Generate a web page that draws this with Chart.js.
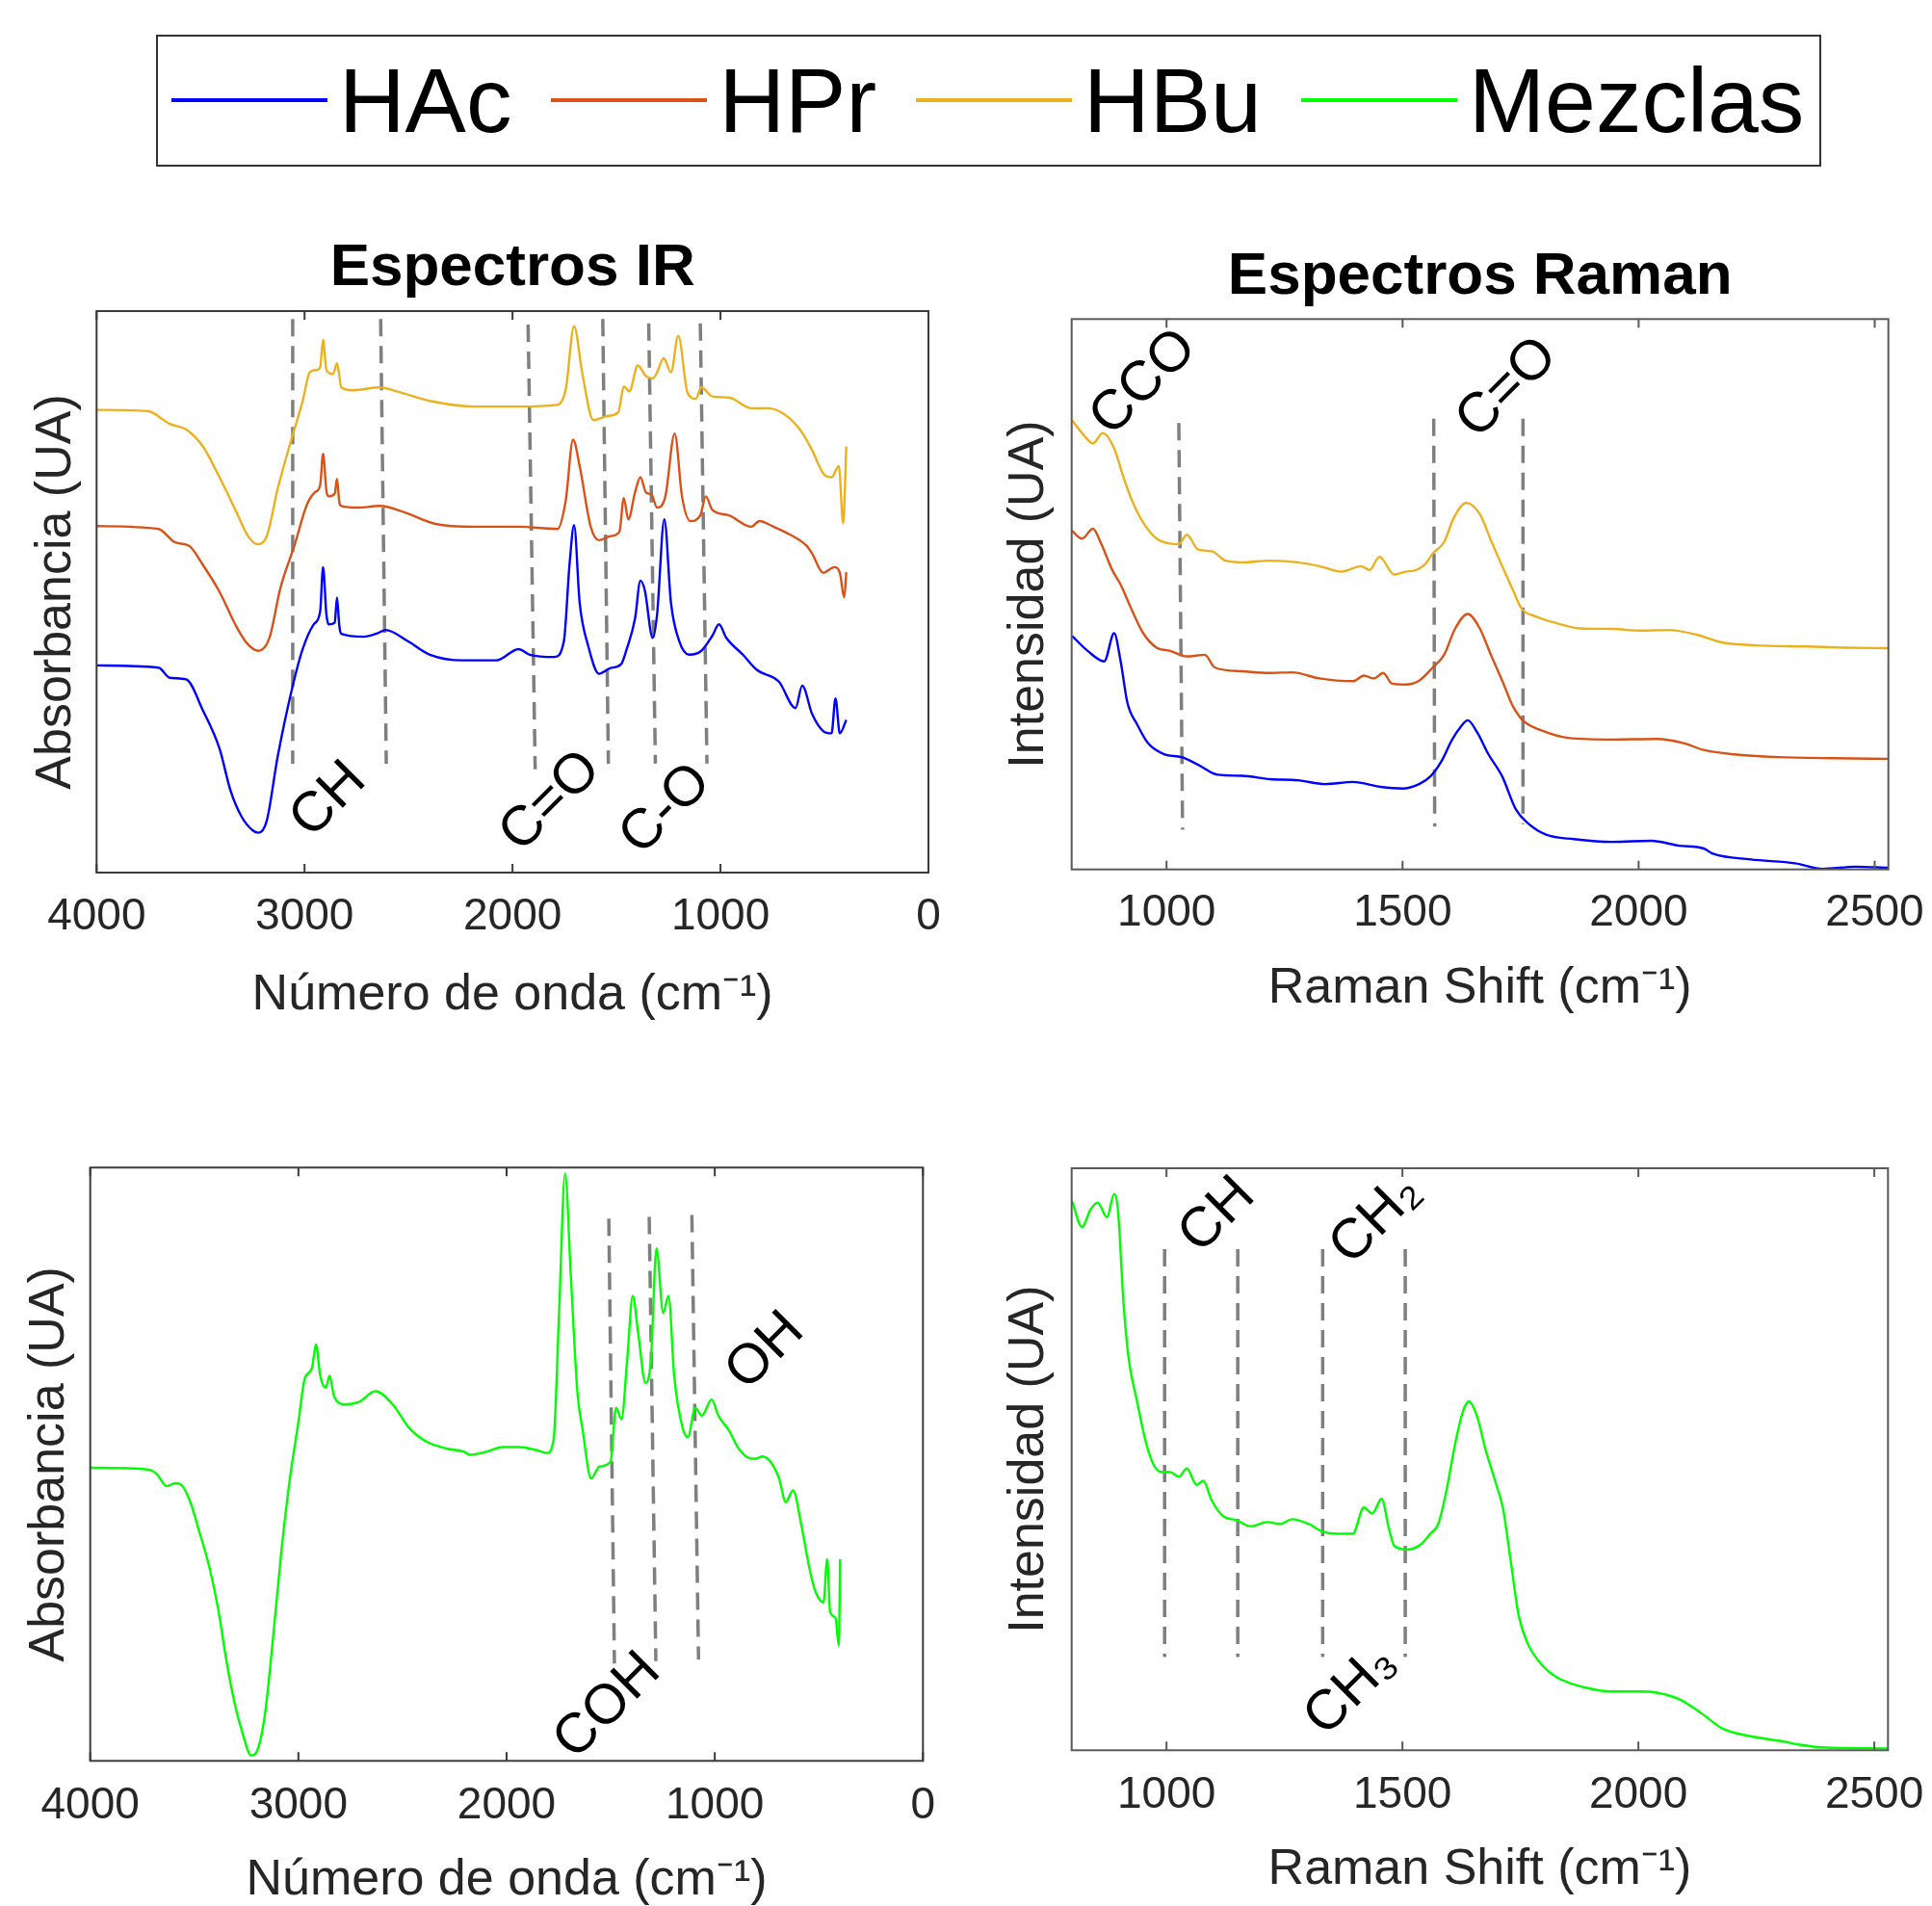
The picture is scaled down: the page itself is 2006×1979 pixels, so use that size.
<!DOCTYPE html>
<html lang="es">
<head>
<meta charset="utf-8">
<title>Espectros IR y Raman</title>
<script src="https://cdn.jsdelivr.net/npm/chart.js@4.4.1/dist/chart.umd.min.js"></script>
<style>
  html, body { margin: 0; padding: 0; background: #fff; }
  body { width: 2006px; height: 1979px; position: relative; overflow: hidden; font-family: "Liberation Sans", Arial, sans-serif; }
  canvas { position: absolute; }
  #legend { position: absolute; left: 162px; top: 36px; width: 1729px; height: 137px; box-sizing: border-box; border: 2px solid #333; background: #fff; }
  #legend .row { position: absolute; left: 14px; top: 19px; height: 94px; display: flex; align-items: center; }
  #legend .item { display: flex; align-items: center; margin-right: 41px; }
  #legend .swatch { width: 162px; height: 4px; margin-right: 12px; }
  #legend .txt { font-size: 95px; line-height: 94px; color: #000; }
</style>
</head>
<body>
<div id="legend"><div class="row" id="legendRow"></div></div>
<canvas id="irChart" width="1000" height="880" style="left:0;top:200px"></canvas>
<canvas id="ramanChart" width="1006" height="880" style="left:1000px;top:200px"></canvas>
<canvas id="irMixChart" width="1000" height="879" style="left:0;top:1100px"></canvas>
<canvas id="ramanMixChart" width="1006" height="879" style="left:1000px;top:1100px"></canvas>
<script>
// series (legend)
const seriesNames = ['HAc', 'HPr', 'HBu', 'Mezclas'];
const seriesColors = ['#0000ff', '#d95319', '#edb120', '#00ff00'];

// ticks
const irTicks = [4000, 3000, 2000, 1000, 0];
const ramanTicks = [1000, 1500, 2000, 2500];

// IR spectra: [numero de onda, absorbancia (% de la altura del eje)]
const irHAc = [
  [4000, 36.9], [3702, 36.5], [3648, 34.7], [3569, 34.4], [3489, 28.9], [3409, 22.1], [3356, 14.6],
  [3302, 9.9], [3249, 7.5], [3222, 7.1], [3182, 9.2], [3129, 20.7], [3063, 32.3], [3009, 39.8],
  [2956, 44.2], [2925, 46.5], [2911, 54.4], [2895, 46], [2884, 44.2], [2855, 44.5], [2844, 49.0],
  [2833, 44], [2823, 42.5], [2716, 42.0], [2650, 42.6], [2610, 43.2], [2503, 41.2], [2397, 38.8],
  [2237, 37.8], [2077, 37.8], [1971, 39.8], [1917, 38.8], [1798, 38.4], [1753, 41.2], [1726, 54.8],
  [1704, 61.9], [1677, 48.0], [1637, 40.5], [1584, 35.4], [1531, 36.4], [1478, 37.1], [1451, 39.8],
  [1411, 45.2], [1385, 52.0], [1364, 50.3], [1326, 41.8], [1305, 45.9], [1270, 62.9], [1238, 48.0],
  [1198, 41.2], [1150, 38.8], [1092, 39.5], [1039, 42.2], [1007, 44.2], [972, 41.8], [892, 38.8],
  [825, 36.1], [719, 34.0], [639, 29.3], [607, 33.3], [559, 28.2], [506, 25.2], [466, 24.8],
  [447, 31.0], [426, 24.8], [395, 27.2]
];
const irHPr = [
  [4000, 61.7], [3702, 61.2], [3622, 58.8], [3555, 58.2], [3489, 54.8], [3409, 50.0], [3329, 43.9],
  [3276, 40.8], [3222, 39.5], [3169, 41.8], [3116, 50.7], [3049, 58.2], [2988, 65.6], [2951, 67.7],
  [2925, 69], [2911, 74.6], [2895, 68], [2884, 67.0], [2855, 67.5], [2844, 70.1], [2833, 66],
  [2823, 65.3], [2743, 65.0], [2637, 65.3], [2530, 64.3], [2370, 62.1], [2184, 61.6], [1971, 61.6],
  [1784, 61.2], [1744, 66.3], [1709, 77.1], [1677, 72.4], [1624, 61.6], [1584, 59.2], [1531, 59.9],
  [1486, 60.7], [1465, 66.7], [1443, 62.9], [1411, 67.7], [1385, 70.4], [1358, 67.7], [1331, 67.3],
  [1305, 65.0], [1265, 67.0], [1220, 78.2], [1185, 67.0], [1145, 62.6], [1097, 63.6], [1071, 67.0],
  [1039, 64.6], [959, 63.6], [852, 61.6], [812, 62.6], [745, 61.6], [666, 60.2], [586, 58.2],
  [559, 56.8], [506, 53.4], [452, 54.4], [426, 53.4], [405, 49.0], [395, 53.5]
];
const irHBu = [
  [4000, 82.4], [3755, 82.2], [3648, 79.9], [3569, 78.9], [3489, 75.9], [3409, 70.4], [3329, 64.3],
  [3276, 60.2], [3228, 58.5], [3182, 59.9], [3129, 68.4], [3063, 77.2], [3009, 84.0], [2975, 89.1],
  [2943, 89.5], [2925, 90], [2911, 94.9], [2895, 89.5], [2863, 88.8], [2844, 90.7], [2823, 86.4],
  [2770, 85.9], [2637, 86.4], [2556, 85.7], [2397, 84.0], [2184, 83.0], [1971, 83.0], [1784, 83.3],
  [1744, 86.1], [1704, 97.3], [1664, 88.8], [1611, 80.6], [1545, 81.3], [1491, 82.0], [1465, 86.6],
  [1438, 85.7], [1398, 90.3], [1358, 88.4], [1326, 88.0], [1305, 89.1], [1273, 91.6], [1238, 89.1],
  [1203, 95.6], [1158, 85.4], [1118, 84.4], [1092, 86.4], [1039, 84.8], [959, 84.6], [852, 82.7],
  [772, 82.7], [692, 81.6], [612, 78.6], [559, 75.2], [506, 71.1], [466, 70.4], [431, 72.4],
  [410, 62.2], [395, 75.9]
];

// Raman spectra: [raman shift, intensidad (% de la altura del eje)]
const ramanHAc = [
  [800, 42.4], [833, 39.7], [868, 37.8], [889, 42.9], [903, 37.7], [917, 30.3], [938, 26.3],
  [961, 22.9], [996, 20.9], [1032, 20.4], [1067, 19.0], [1108, 17.2], [1160, 17.0], [1219, 16.4],
  [1278, 16.2], [1336, 15.5], [1395, 15.9], [1453, 15.0], [1500, 14.7], [1535, 15.5], [1559, 16.9],
  [1582, 19.6], [1605, 23.6], [1623, 25.9], [1638, 27.1], [1658, 24.9], [1682, 20.9], [1711, 16.9],
  [1740, 10.9], [1764, 8.5], [1804, 6.3], [1863, 5.5], [1945, 5.0], [2027, 5.2], [2086, 4.3],
  [2138, 3.8], [2156, 2.9], [2238, 1.8], [2332, 1.1], [2390, 0.1], [2460, 0.5], [2528, 0.3]
];
const ramanHPr = [
  [800, 61.5], [821, 60.1], [844, 61.9], [862, 59.1], [885, 54.4], [903, 51.7], [920, 48.4],
  [950, 43.0], [979, 40.3], [1008, 39.7], [1043, 38.7], [1081, 39.0], [1102, 36.7], [1160, 36.0],
  [1219, 35.7], [1266, 35.8], [1324, 34.7], [1395, 34.2], [1418, 35.2], [1439, 34.7], [1459, 35.7],
  [1477, 33.8], [1506, 33.6], [1535, 34.3], [1564, 36.7], [1588, 39.0], [1611, 43.7], [1638, 46.4],
  [1664, 43.7], [1687, 39.0], [1711, 34.3], [1734, 29.6], [1757, 26.9], [1793, 25.3], [1851, 23.9],
  [1945, 23.6], [2039, 23.7], [2097, 22.9], [2138, 21.7], [2202, 20.9], [2296, 20.4], [2413, 20.2],
  [2528, 20.1]
];
const ramanHBu = [
  [800, 81.6], [821, 79.3], [844, 77.4], [865, 79.3], [889, 76.5], [909, 71.2], [926, 67.2],
  [950, 63.1], [979, 60.1], [1008, 59.2], [1026, 59.1], [1043, 60.8], [1067, 58.1], [1096, 57.8],
  [1125, 56.1], [1160, 55.8], [1219, 56.1], [1278, 55.8], [1324, 55.1], [1371, 54.1], [1412, 55.1],
  [1430, 54.4], [1451, 56.8], [1482, 53.6], [1506, 54.1], [1529, 54.4], [1547, 55.4], [1564, 57.4],
  [1588, 59.5], [1608, 63.8], [1635, 66.6], [1664, 64.5], [1687, 59.8], [1711, 55.1], [1734, 50.7],
  [1752, 47.4], [1781, 46.0], [1828, 44.7], [1875, 43.8], [1945, 43.7], [2004, 43.4], [2062, 43.5],
  [2121, 42.7], [2179, 41.2], [2249, 40.7], [2355, 40.5], [2437, 40.3], [2528, 40.2]
];

// Mezclas
const irMix = [
  [4000, 49.4], [3718, 49.1], [3679, 48.3], [3633, 46.3], [3591, 46.8], [3559, 46.4], [3519, 43.6],
  [3479, 39.0], [3426, 32.4], [3386, 25.7], [3347, 17.1], [3307, 9.8], [3267, 4.5], [3227, 0.9],
  [3201, 1.5], [3161, 7.8], [3121, 21.1], [3081, 35.7], [3041, 47.6], [3001, 56.9], [2969, 64.5],
  [2935, 66.2], [2916, 70.2], [2895, 64.9], [2869, 62.9], [2850, 64.9], [2829, 61.5], [2776, 60.1],
  [2709, 60.5], [2630, 62.3], [2550, 60.2], [2470, 56.2], [2390, 53.9], [2284, 52.6], [2204, 52.1],
  [2178, 51.6], [2098, 52.1], [2019, 52.9], [1939, 52.9], [1859, 52.4], [1806, 51.9], [1774, 54.2],
  [1748, 75.5], [1719, 99.0], [1692, 82.1], [1660, 62.2], [1634, 55.6], [1594, 47.6], [1554, 49.6],
  [1501, 50.4], [1474, 59.5], [1448, 57.6], [1421, 67.5], [1394, 78.4], [1368, 72.1], [1333, 63.7],
  [1307, 67.5], [1280, 86.4], [1248, 75.5], [1222, 78.4], [1195, 64.9], [1155, 56.2], [1129, 54.6],
  [1094, 59.5], [1062, 58.2], [1015, 60.9], [983, 58.2], [930, 55.6], [890, 52.9], [850, 51.3],
  [810, 50.9], [770, 51.3], [730, 50.3], [691, 47.6], [659, 43.6], [624, 45.6], [584, 39.7],
  [545, 32.4], [518, 28.7], [478, 26.7], [460, 34.0], [446, 25.1], [420, 24.1], [404, 19.4], [398, 34.0]
];
const ramanMix = [
  [800, 94.3], [821, 89.9], [839, 92.9], [854, 94.1], [874, 91.6], [889, 95.6], [897, 92.9],
  [909, 76.7], [920, 67.2], [938, 59.8], [956, 53.0], [973, 49.0], [991, 47.8], [1008, 47.8],
  [1026, 47.0], [1043, 48.4], [1064, 45.6], [1078, 46.3], [1096, 42.9], [1119, 40.3], [1149, 39.5],
  [1178, 38.5], [1213, 39.2], [1242, 38.9], [1266, 39.7], [1301, 38.9], [1330, 37.6], [1360, 37.2],
  [1395, 37.2], [1418, 41.7], [1436, 40.7], [1456, 43.2], [1471, 38.2], [1483, 35.1], [1512, 34.5],
  [1541, 35.5], [1559, 37.2], [1576, 38.9], [1594, 44.9], [1611, 52.4], [1629, 58.4], [1641, 59.9],
  [1658, 57.4], [1676, 51.7], [1699, 45.6], [1713, 41.6], [1729, 32.8], [1746, 23.3], [1764, 18.6],
  [1793, 14.9], [1828, 12.5], [1886, 10.8], [1945, 10.1], [2004, 10.1], [2039, 9.9], [2086, 8.8],
  [2133, 6.4], [2179, 3.7], [2238, 2.4], [2308, 1.5], [2338, 1.0], [2390, 0.5], [2528, 0.3]
];

// lineas guia discontinuas [x1, y1, x2, y2] y etiquetas de banda [texto, x, y]
const irGuides = [
  [3057, 98.6, 3057, 19.4], [2634, 98.6, 2607, 19.4], [1925, 97.6, 1891, 18.4],
  [1566, 98.6, 1539, 19.4], [1345, 97.8, 1313, 19.4], [1097, 97.8, 1065, 19.4]
];
const irBands = [['CH', 2884, 12.9], ['C=O', 1816, 12.6], ['C-O', 1262, 11.2]];
const ramanGuides = [[1026, 81.1, 1034, 7.2], [1566, 81.9, 1568, 7.8], [1755, 81.9, 1755, 8.2]];
const ramanBands = [['CCO', 952, 88.4], ['C=O', 1722, 87.4]];
const irMixGuides = [[1509, 91.4, 1482, 16.4], [1315, 91.7, 1283, 16.8], [1110, 92.0, 1078, 17.1]];
const irMixBands = [['COH', 1514, 9.2], ['OH', 757, 69.0]];
const ramanMixGuides = [[996, 86.1, 996, 16.0], [1151, 86.1, 1151, 16.0], [1331, 86.1, 1331, 16.0], [1506, 86.1, 1506, 16.0]];
const ramanMixBands = [['CH', 1108, 91.9], ['CH\u2082', 1444, 91.2], ['CH\u2083', 1391, 10.3]];

const FONT = '"Liberation Sans", Arial, sans-serif';
const AXIS_TXT = '#262626';

// leyenda comun
const legendRow = document.getElementById('legendRow');
seriesNames.forEach((name, i) => {
  const item = document.createElement('div');
  item.className = 'item';
  item.innerHTML = '<div class="swatch" style="background:' + seriesColors[i] + '"></div><span class="txt">' + name + '</span>';
  legendRow.appendChild(item);
});

// marco tipo MATLAB con marcas hacia dentro
const framePlugin = {
  id: 'frame',
  afterDatasetsDraw(chart, args, opts) {
    const { ctx, chartArea: a, scales: { x } } = chart;
    ctx.save();
    ctx.strokeStyle = opts.color || '#404040';
    ctx.lineWidth = 2;
    ctx.strokeRect(a.left, a.top, a.right - a.left, a.bottom - a.top);
    ctx.beginPath();
    x.ticks.forEach(t => {
      const px = x.getPixelForValue(t.value);
      ctx.moveTo(px, a.bottom); ctx.lineTo(px, a.bottom - 9);
      ctx.moveTo(px, a.top); ctx.lineTo(px, a.top + 9);
    });
    ctx.stroke();
    ctx.restore();
  }
};

// etiquetas de bandas giradas 45 grados
const bandPlugin = {
  id: 'bands',
  afterDatasetsDraw(chart, args, opts) {
    const { ctx, scales: { x, y } } = chart;
    ctx.save();
    ctx.font = '58px ' + FONT;
    ctx.fillStyle = '#000';
    ctx.textAlign = 'center';
    ctx.textBaseline = 'middle';
    (opts.items || []).forEach(([text, xv, yv]) => {
      ctx.save();
      ctx.translate(x.getPixelForValue(xv), y.getPixelForValue(yv));
      ctx.rotate(-Math.PI / 4);
      ctx.fillText(text, 0, 0);
      ctx.restore();
    });
    ctx.restore();
  }
};

function toPoints(arr) {
  return arr.map(([x, y]) => ({ x, y }));
}

function seriesDataset(idx, pts) {
  return {
    label: seriesNames[idx],
    data: toPoints(pts),
    borderColor: seriesColors[idx],
    borderWidth: 2.4,
    pointRadius: 0,
    cubicInterpolationMode: 'monotone',
    fill: false
  };
}

function guideDatasets(guides) {
  return guides.map(([x1, y1, x2, y2]) => ({
    label: 'guia',
    data: [{ x: x1, y: y1 }, { x: x2, y: y2 }],
    borderColor: '#7f7f7f',
    borderWidth: 3.5,
    borderDash: [18, 10],
    pointRadius: 0,
    fill: false
  }));
}

// cfg: geometria del area del grafico dentro de su canvas
function makeSpectrum(id, cfg) {
  const ctx = document.getElementById(id).getContext('2d');
  return new Chart(ctx, {
    type: 'line',
    data: { datasets: cfg.datasets },
    plugins: [framePlugin, bandPlugin],
    options: {
      responsive: false,
      animation: false,
      devicePixelRatio: 1,
      events: [],
      layout: { padding: { left: 0, right: cfg.padRight, top: cfg.padTop || 0, bottom: 0 } },
      scales: {
        x: {
          type: 'linear',
          min: cfg.xMin,
          max: cfg.xMax,
          reverse: !!cfg.reverse,
          grid: { display: false, drawTicks: false },
          border: { display: false },
          afterBuildTicks: s => { s.ticks = cfg.ticks.map(v => ({ value: v })); },
          afterFit: s => { s.height = cfg.xAxisHeight; s.paddingLeft = 0; s.paddingRight = 0; },
          ticks: {
            autoSkip: false,
            maxRotation: 0,
            padding: cfg.tickPad,
            color: AXIS_TXT,
            font: { family: FONT, size: 46 },
            callback: v => String(v)
          },
          title: {
            display: true,
            text: cfg.xTitle,
            color: AXIS_TXT,
            font: { family: FONT, size: 52, lineHeight: cfg.xTitleLH || 1.2 },
            padding: { top: 0, bottom: cfg.xTitlePad }
          }
        },
        y: {
          type: 'linear',
          min: 0,
          max: 100,
          grid: { display: false, drawTicks: false },
          border: { display: false },
          ticks: { display: false },
          afterFit: s => { s.width = cfg.yAxisWidth; s.paddingTop = 0; s.paddingBottom = 0; },
          title: {
            display: true,
            text: cfg.yTitle,
            color: AXIS_TXT,
            font: { family: FONT, size: 52, lineHeight: 1.2 },
            padding: { top: cfg.yTitlePad, bottom: 0 }
          }
        }
      },
      plugins: {
        legend: { display: false },
        tooltip: { enabled: false },
        title: cfg.title ? {
          display: true,
          text: cfg.title,
          fullSize: false,
          color: '#000',
          font: { family: FONT, size: 62, weight: 'bold', lineHeight: 1.2 },
          padding: cfg.titlePad
        } : { display: false },
        frame: { color: cfg.frameColor },
        bands: { items: cfg.bands }
      }
    }
  });
}

const irTitle = 'N\u00famero de onda (cm\u207b\u00b9)';
const ramanTitle = 'Raman Shift (cm\u207b\u00b9)';

makeSpectrum('irChart', {
  datasets: [seriesDataset(0, irHAc), seriesDataset(1, irHPr), seriesDataset(2, irHBu)].concat(guideDatasets(irGuides)),
  xMin: 0, xMax: 4000, reverse: true, ticks: irTicks,
  padRight: 36, xAxisHeight: 174, tickPad: 19, xTitle: irTitle, xTitlePad: 15,
  yAxisWidth: 100.3, yTitle: 'Absorbancia (UA)', yTitlePad: 27,
  title: 'Espectros IR', titlePad: { top: 41.8, bottom: 6.8 },
  frameColor: '#3c3c3c', bands: irBands
});

makeSpectrum('ramanChart', {
  datasets: [seriesDataset(0, ramanHAc), seriesDataset(1, ramanHPr), seriesDataset(2, ramanHBu)].concat(guideDatasets(ramanGuides)),
  xMin: 799, xMax: 2529, ticks: ramanTicks,
  padRight: 45.3, xAxisHeight: 177.3, tickPad: 17.7, xTitle: ramanTitle, xTitlePad: 22,
  yAxisWidth: 112.7, yTitle: 'Intensidad (UA)', yTitlePad: 37,
  title: 'Espectros Raman', titlePad: { top: 50.8, bottom: 6.1 },
  frameColor: '#5a5a5a', bands: ramanBands
});

makeSpectrum('irMixChart', {
  datasets: [seriesDataset(3, irMix)].concat(guideDatasets(irMixGuides)),
  xMin: 0, xMax: 4000, reverse: true, ticks: irTicks,
  padRight: 41.7, padTop: 112.3, xAxisHeight: 150.7, tickPad: 19, xTitle: irTitle, xTitlePad: 0, xTitleLH: 1.0,
  yAxisWidth: 93.7, yTitle: 'Absorbancia (UA)', yTitlePad: 20,
  frameColor: '#3c3c3c', bands: irMixBands
});

makeSpectrum('ramanMixChart', {
  datasets: [seriesDataset(3, ramanMix)].concat(guideDatasets(ramanMixGuides)),
  xMin: 799, xMax: 2529, ticks: ramanTicks,
  padRight: 45.7, padTop: 113, xAxisHeight: 161.7, tickPad: 19, xTitle: ramanTitle, xTitlePad: 6,
  yAxisWidth: 112.7, yTitle: 'Intensidad (UA)', yTitlePad: 37,
  frameColor: '#5a5a5a', bands: ramanMixBands
});
</script>
</body>
</html>
